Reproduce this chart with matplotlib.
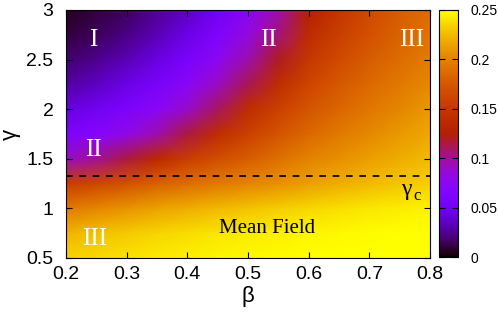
import numpy as np
import matplotlib
matplotlib.use("Agg")
import matplotlib.pyplot as plt

plt.rcParams['font.family'] = ['Liberation Sans', 'DejaVu Sans']

# grid
beta = [0.2, 0.25, 0.3, 0.35, 0.4, 0.45, 0.5, 0.55, 0.6, 0.65, 0.7, 0.75, 0.8]
gamma = [0.5, 0.75, 1.0, 1.25, 1.5, 1.75, 2.0, 2.25, 2.5, 2.75, 3.0]
vals = [
    [0.234, 0.237, 0.240, 0.243, 0.245, 0.247, 0.248, 0.249, 0.250, 0.250, 0.250, 0.250, 0.250],  # 0.5
    [0.222, 0.227, 0.231, 0.235, 0.238, 0.241, 0.243, 0.245, 0.247, 0.248, 0.249, 0.250, 0.250],  # 0.75
    [0.195, 0.202, 0.208, 0.214, 0.219, 0.224, 0.228, 0.232, 0.236, 0.239, 0.242, 0.244, 0.246],  # 1.0
    [0.155, 0.163, 0.171, 0.180, 0.188, 0.195, 0.201, 0.207, 0.213, 0.219, 0.224, 0.229, 0.233],  # 1.25
    [0.090, 0.100, 0.115, 0.135, 0.155, 0.168, 0.178, 0.190, 0.200, 0.207, 0.213, 0.219, 0.225],  # 1.5
    [0.060, 0.068, 0.080, 0.095, 0.115, 0.140, 0.158, 0.172, 0.185, 0.195, 0.203, 0.210, 0.217],  # 1.75
    [0.042, 0.050, 0.060, 0.073, 0.088, 0.110, 0.140, 0.158, 0.173, 0.184, 0.194, 0.202, 0.210],  # 2.0
    [0.028, 0.035, 0.045, 0.057, 0.072, 0.090, 0.112, 0.140, 0.162, 0.175, 0.186, 0.195, 0.203],  # 2.25
    [0.018, 0.024, 0.032, 0.043, 0.057, 0.075, 0.095, 0.120, 0.150, 0.166, 0.178, 0.188, 0.197],  # 2.5
    [0.010, 0.015, 0.022, 0.032, 0.045, 0.062, 0.083, 0.105, 0.138, 0.157, 0.170, 0.182, 0.192],  # 2.75
    [0.005, 0.010, 0.015, 0.025, 0.035, 0.050, 0.073, 0.095, 0.125, 0.148, 0.165, 0.178, 0.188],  # 3.0
]
gamma_c = 1.33
cb_ticks = [0, 0.05, 0.1, 0.15, 0.2, 0.25]
cb_labels = ['0', '0.05', '0.1', '0.15', '0.2', '0.25']

fig = plt.figure(figsize=(4.98, 3.18), dpi=100)
ax = fig.add_axes([0.1325, 0.1887, 0.731, 0.78])
cax = fig.add_axes([0.8815, 0.1918, 0.038, 0.7768])

B, G = np.meshgrid(beta, gamma)
mesh = ax.pcolormesh(B, G, np.array(vals), cmap='gnuplot', vmin=0, vmax=0.25,
                     shading='gouraud', rasterized=True)
ax.axhline(gamma_c, color='black', lw=1.2, ls=(0, (4, 4)))

ax.set_xlim(0.2, 0.8)
ax.set_ylim(0.5, 3)
ax.set_xticks([0.2, 0.3, 0.4, 0.5, 0.6, 0.7, 0.8])
ax.set_xticklabels(['0.2', '0.3', '0.4', '0.5', '0.6', '0.7', '0.8'])
ax.set_yticks([0.5, 1, 1.5, 2, 2.5, 3])
ax.set_yticklabels(['0.5', '1', '1.5', '2', '2.5', '3'])
ax.tick_params(direction='in', top=True, right=True, length=4, labelsize=14)
ax.tick_params(axis='x', pad=6)
ax.tick_params(axis='y', pad=9)
ax.set_xlabel('β', fontsize=16, labelpad=2)
ax.set_ylabel('γ', fontsize=16, labelpad=4)

serif = ['Liberation Serif', 'DejaVu Serif']
for x, y, s in [(0.2445, 2.70, 'I'), (0.533, 2.70, 'II'), (0.770, 2.70, 'III'),
                (0.246, 1.59, 'II'), (0.248, 0.69, 'III')]:
    ax.text(x, y, s, color='white', fontsize=18, family=serif, ha='center', va='center')
ax.text(0.531, 0.80, 'Mean Field', color='black', fontsize=15, family=serif, ha='center', va='center')
ax.text(0.760, 1.19, 'γ', color='black', fontsize=17, family=serif, ha='center', va='center')
ax.text(0.778, 1.12, 'c', color='black', fontsize=12, family=serif, ha='center', va='center')

cb = fig.colorbar(mesh, cax=cax, ticks=cb_ticks)
cb.ax.set_yticklabels(cb_labels)
cb.ax.tick_params(direction='in', left=True, right=True, length=4, labelsize=10, pad=9)
cb.outline.set_linewidth(0.8)

fig.savefig('out.png', dpi=100)
